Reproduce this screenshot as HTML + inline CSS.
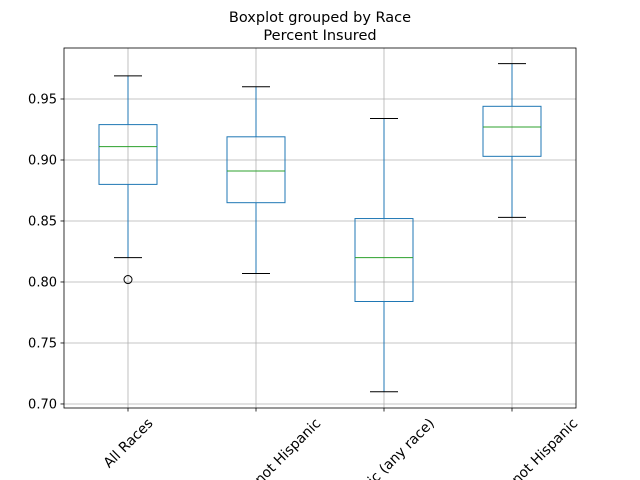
<!DOCTYPE html>
<html><head><meta charset="utf-8"><style>html,body{margin:0;background:#fff;overflow:hidden;width:640px;height:480px}svg{display:block;overflow:hidden;font-family:"DejaVu Sans","Liberation Sans",sans-serif}</style></head>
<body>
<svg id="c" width="640" height="480">
<text x="320" y="22" text-anchor="middle" font-size="14.5">Boxplot grouped by Race</text>
<text x="320" y="40" text-anchor="middle" font-size="14.5">Percent Insured</text>
</svg>
<script>
const categories=["All Races","Black alone, not Hispanic","Hispanic (any race)","White alone, not Hispanic"];
const whiskerLow=[0.820,0.807,0.710,0.853];
const q1=[0.880,0.865,0.784,0.903];
const median=[0.911,0.891,0.820,0.927];
const q3=[0.929,0.919,0.852,0.944];
const whiskerHigh=[0.969,0.960,0.934,0.979];
const outliers=[[0.802],[],[],[]];
const yTicks=[0.70,0.75,0.80,0.85,0.90,0.95];
const yMin=0.6967,yMax=0.9918;
const L=64,R=576,T=48,B=408;
const svg=document.getElementById('c');
const NS='http://www.w3.org/2000/svg';
function y(v){return B-(v-yMin)/(yMax-yMin)*(B-T);}
function x(i){return L+(R-L)*(i+0.5)/categories.length;}
function mk(t,a,p){const e=document.createElementNS(NS,t);for(const k in a)e.setAttribute(k,a[k]);(p||svg).appendChild(e);return e;}
function line(x1,y1,x2,y2,s,w){return mk('line',{x1,y1,x2,y2,stroke:s,'stroke-width':w||1});}
yTicks.forEach(v=>{const g=line(L,y(v),R,y(v),'#b0b0b0',0.8);


const t=line(L-3.5,y(v),L,y(v),'#000',0.8);


const lb=mk('text',{x:L-7,y:y(v)+4.5,'text-anchor':'end','font-size':13});lb.textContent=v.toFixed(2);

});
categories.forEach((c,i)=>{const g=line(x(i),T,x(i),B,'#b0b0b0',0.8);


const t=line(x(i),B,x(i),B+3.5,'#000',0.8);


const lb=mk('text',{x:0,y:0,'text-anchor':'middle','font-size':13.9});lb.textContent=c;


const w=lb.getComputedTextLength();
const cx=x(i),cy=B+7+(w+16)*0.7071/2;
lb.setAttribute('x',cx);lb.setAttribute('y',cy+4.8);
lb.setAttribute('transform',`rotate(-45 ${cx} ${cy})`);});
const blue='#1f77b4',bw=58,cw=28;
categories.forEach((c,i)=>{const g=mk('g',{});


const cx=x(i);
mk('line',{x1:cx,y1:y(q3[i]),x2:cx,y2:y(whiskerHigh[i]),stroke:blue},g);
mk('line',{x1:cx,y1:y(q1[i]),x2:cx,y2:y(whiskerLow[i]),stroke:blue},g);
mk('line',{x1:cx-cw/2,y1:y(whiskerHigh[i]),x2:cx+cw/2,y2:y(whiskerHigh[i]),stroke:'#000'},g);
mk('line',{x1:cx-cw/2,y1:y(whiskerLow[i]),x2:cx+cw/2,y2:y(whiskerLow[i]),stroke:'#000'},g);
mk('rect',{x:cx-bw/2,y:y(q3[i]),width:bw,height:y(q1[i])-y(q3[i]),fill:'none',stroke:blue},g);
mk('line',{x1:cx-bw/2,y1:y(median[i]),x2:cx+bw/2,y2:y(median[i]),stroke:'#2ca02c'},g);
outliers[i].forEach(o=>mk('circle',{cx:cx,cy:y(o),r:4,fill:'none',stroke:'#000'},g));});
const f=mk('rect',{x:L,y:T,width:R-L,height:B-T,fill:'none',stroke:'#000','stroke-width':0.8});


</script>
</body></html>
